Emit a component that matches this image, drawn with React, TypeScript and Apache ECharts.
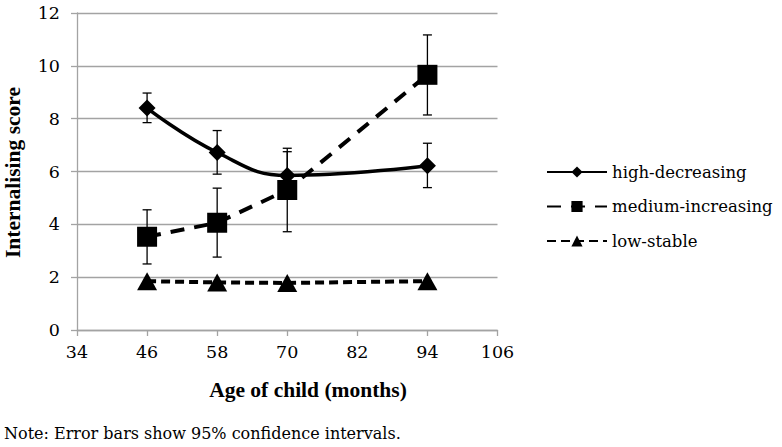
import React, { useEffect, useRef } from "react";
import * as echarts from "echarts";

const ages = [46, 58, 70, 94];
const seriesNames = ["high-decreasing", "medium-increasing", "low-stable"];
const highMean = [8.4, 6.72, 5.85, 6.22];
const highLow = [7.85, 5.9, 4.95, 5.39];
const highHigh = [8.97, 7.55, 6.75, 7.07];
const medMean = [3.53, 4.06, 5.3, 9.66];
const medLow = [2.5, 2.76, 3.72, 8.14];
const medHigh = [4.55, 5.37, 6.88, 11.17];
const lowMean = [1.85, 1.8, 1.78, 1.85];
const xTicks = { min: 34, max: 106, interval: 12 };
const yTicks = { min: 0, max: 12, interval: 2 };
const xTitle = "Age of child (months)";
const yTitle = "Internalising score";
const note = "Note: Error bars show 95% confidence intervals.";

const REG = "DejaVu Serif";
const GRAY = "#a3a3a3";

export default function App() {
  const ref = useRef<HTMLDivElement>(null);
  useEffect(() => {
    if (!ref.current) return;
    const chart = echarts.init(ref.current, undefined, { renderer: "svg" });
    const errData: number[][] = [];
    ages.forEach((a, i) => {
      errData.push([a, highLow[i], highHigh[i]]);
      errData.push([a, medLow[i], medHigh[i]]);
    });
    const option: any = {
      animation: false,
      backgroundColor: "#fff",
      grid: { left: 77, right: 284.5, top: 13, bottom: 117, containLabel: false },
      xAxis: {
        type: "value",
        min: xTicks.min,
        max: xTicks.max,
        interval: xTicks.interval,
        axisLine: { show: true, lineStyle: { color: GRAY, width: 1.3 } },
        axisTick: { show: true, length: 6, lineStyle: { color: GRAY, width: 1.3 } },
        axisLabel: { color: "#000", fontFamily: REG, fontSize: 17.5, margin: 13 },
        splitLine: { show: false },
      },
      yAxis: {
        type: "value",
        min: yTicks.min,
        max: yTicks.max,
        interval: yTicks.interval,
        axisLine: { show: true, lineStyle: { color: GRAY, width: 1.3 } },
        axisTick: { show: true, length: 6, lineStyle: { color: GRAY, width: 1.3 } },
        axisLabel: { color: "#000", fontFamily: REG, fontSize: 17.5, margin: 17 },
        splitLine: { show: true, lineStyle: { color: GRAY, width: 1.3 } },
      },
      legend: {
        data: seriesNames,
        orient: "vertical",
        left: 541,
        top: 158.5,
        itemWidth: 60,
        itemHeight: 14,
        itemGap: 17.5,
        textStyle: { color: "#000", fontFamily: REG, fontSize: 16.5 },
      },
      series: [
        {
          name: seriesNames[0],
          type: "line",
          data: ages.map((a, i) => [a, highMean[i]]),
          smooth: 0.45,
          symbol: "diamond",
          symbolSize: 17,
          itemStyle: { color: "#000" },
          lineStyle: { color: "#000", width: 3.5, type: "solid" },
          z: 3,
        },
        {
          name: seriesNames[1],
          type: "line",
          data: ages.map((a, i) => [a, medMean[i]]),
          symbol: "rect",
          symbolSize: 20,
          itemStyle: { color: "#000" },
          lineStyle: { color: "#000", width: 4, type: [14, 10] },
          z: 3,
        },
        {
          name: seriesNames[2],
          type: "line",
          data: ages.map((a, i) => [a, lowMean[i]]),
          symbol: "triangle",
          symbolSize: [20, 18],
          itemStyle: { color: "#000" },
          lineStyle: { color: "#000", width: 4, type: [9, 5] },
          z: 3,
        },
        {
          name: "errors",
          type: "custom",
          data: errData,
          encode: { x: 0, y: [1, 2] },
          z: 2,
          silent: true,
          renderItem: (params: any, api: any) => {
            const x = api.value(0);
            const pLo = api.coord([x, api.value(1)]);
            const pHi = api.coord([x, api.value(2)]);
            const hw = 4.5;
            const st = { stroke: "#000", lineWidth: 1.3 };
            return {
              type: "group",
              children: [
                { type: "line", shape: { x1: pLo[0], y1: pLo[1], x2: pHi[0], y2: pHi[1] }, style: st },
                { type: "line", shape: { x1: pLo[0] - hw, y1: pLo[1], x2: pLo[0] + hw, y2: pLo[1] }, style: st },
                { type: "line", shape: { x1: pHi[0] - hw, y1: pHi[1], x2: pHi[0] + hw, y2: pHi[1] }, style: st },
              ],
            };
          },
        },
      ],
      graphic: [
        {
          type: "text",
          x: 308,
          y: 390,
          style: {
            text: xTitle,
            fill: "#000",
            font: "bold 21.5px 'Liberation Serif', serif",
            textAlign: "center",
            textVerticalAlign: "middle",
          },
        },
        {
          type: "text",
          x: 13,
          y: 172.5,
          rotation: Math.PI / 2,
          style: {
            text: yTitle,
            fill: "#000",
            font: "bold 21.5px 'Liberation Serif', serif",
            textAlign: "center",
            textVerticalAlign: "middle",
          },
        },
        {
          type: "text",
          x: 4,
          y: 433,
          style: {
            text: note,
            fill: "#000",
            font: "normal 16px 'DejaVu Serif'",
            textAlign: "left",
            textVerticalAlign: "middle",
          },
        },
      ],
    };
    chart.setOption(option);
    return () => chart.dispose();
  }, []);
  return <div ref={ref} style={{ width: 782, height: 447, position: "absolute", left: 0, top: 0 }} />;
}
